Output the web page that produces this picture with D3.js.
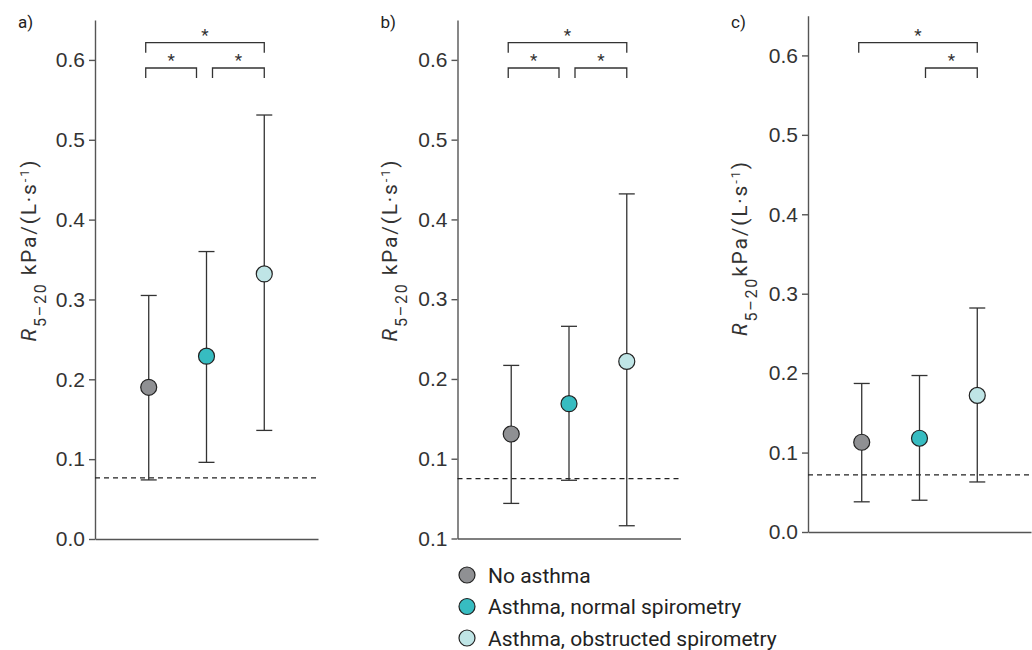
<!DOCTYPE html>
<meta charset="utf-8">
<script src="https://d3js.org/d3.v7.min.js"></script>
<style>
body { margin: 0; background: #fff; }
svg { font-family: Roboto, "Liberation Sans", sans-serif; }
.axis path, .axis line { stroke: #555; stroke-width: 1.4px; }
.axis text { font-size: 21px; fill: #333; }
</style>
<div id="chart"></div>
<script>

// groups and colours
var groups = ["No asthma", "Asthma, normal spirometry", "Asthma, obstructed spirometry"];
var groupColors = ["#8f9093", "#37bcc1", "#bfe5e6"];
var panelNames = ["a)", "b)", "c)"];

// panel a
var meanA = [0.190, 0.229, 0.332];
var lowA  = [0.074, 0.096, 0.136];
var highA = [0.305, 0.360, 0.531];
// panel b
var meanB = [0.131, 0.169, 0.222];
var lowB  = [0.044, 0.073, 0.016];
var highB = [0.217, 0.266, 0.432];
// panel c
var meanC = [0.113, 0.118, 0.172];
var lowC  = [0.038, 0.040, 0.063];
var highC = [0.187, 0.197, 0.282];

// dashed reference line per panel
var refLine = [0.0765, 0.075, 0.072];

// y ticks
var tickValues = [0, 0.1, 0.2, 0.3, 0.4, 0.5, 0.6];
var tickLabelsA = ["0.0", "0.1", "0.2", "0.3", "0.4", "0.5", "0.6"];
var tickLabelsB = ["0.1", "0.1", "0.2", "0.3", "0.4", "0.5", "0.6"];
var tickLabelsC = ["0.0", "0.1", "0.2", "0.3", "0.4", "0.5", "0.6"];

// significance brackets: [from group, to group, level]
var sigA = [[0, 2, 0], [0, 1, 1], [1, 2, 1]];
var sigB = [[0, 2, 0], [0, 1, 1], [1, 2, 1]];
var sigC = [[0, 2, 0], [1, 2, 1]];

var panels = [
  {name: panelNames[0], mean: meanA, low: lowA, high: highA, ref: refLine[0], labels: tickLabelsA, sig: sigA,
   left: 95, bottom: 539, top: 20, labelX: 35.5, labelY: 250, space: true},
  {name: panelNames[1], mean: meanB, low: lowB, high: highB, ref: refLine[1], labels: tickLabelsB, sig: sigB,
   left: 457.5, bottom: 538.5, top: 20, labelX: 396.5, labelY: 250, space: true},
  {name: panelNames[2], mean: meanC, low: lowC, high: highC, ref: refLine[2], labels: tickLabelsC, sig: sigC,
   left: 808, bottom: 532, top: 15.7, labelX: 746.5, labelY: 248, space: false}
];

var panelWidth = 223;
var bracketY = [42.7, 68];

var svg = d3.select("#chart")
  .append("svg")
    .attr("width", 1032)
    .attr("height", 650);

panels.forEach(function(p) {
  var g = svg.append("g");

  var y = d3.scaleLinear()
    .domain([0, 0.65])
    .range([p.bottom, p.top]);

  var x = d3.scalePoint()
    .domain(groups)
    .range([p.left, p.left + panelWidth])
    .padding(0.93);

  // y axis
  g.append("g")
    .attr("class", "axis")
    .attr("transform", "translate(" + p.left + ",0)")
    .call(d3.axisLeft(y)
      .tickValues(tickValues)
      .tickFormat(function(d, i) { return p.labels[i]; })
      .tickSize(6)
      .tickSizeOuter(0)
      .tickPadding(4));

  // x axis (plain line)
  g.append("g")
    .attr("class", "axis")
    .attr("transform", "translate(0," + p.bottom + ")")
    .call(d3.axisBottom(d3.scaleLinear().range([p.left, p.left + panelWidth]))
      .tickValues([])
      .tickSizeOuter(0));

  // dashed reference line
  g.append("line")
    .attr("x1", p.left)
    .attr("x2", p.left + panelWidth)
    .attr("y1", y(p.ref))
    .attr("y2", y(p.ref))
    .attr("stroke", "#222")
    .attr("stroke-width", 1.2)
    .attr("stroke-dasharray", "5,4");

  // error bars
  groups.forEach(function(gr, i) {
    var cx = x(gr);
    g.append("line")
      .attr("x1", cx).attr("x2", cx)
      .attr("y1", y(p.low[i])).attr("y2", y(p.high[i]))
      .attr("stroke", "#333").attr("stroke-width", 1.3);
    [p.low[i], p.high[i]].forEach(function(v) {
      g.append("line")
        .attr("x1", cx - 8).attr("x2", cx + 8)
        .attr("y1", y(v)).attr("y2", y(v))
        .attr("stroke", "#333").attr("stroke-width", 1.3);
    });
  });

  // points
  g.selectAll("circle.pt")
    .data(groups)
    .enter()
    .append("circle")
      .attr("class", "pt")
      .attr("cx", function(d) { return x(d); })
      .attr("cy", function(d, i) { return y(p.mean[i]); })
      .attr("r", 8)
      .attr("fill", function(d, i) { return groupColors[i]; })
      .attr("stroke", "#222")
      .attr("stroke-width", 1.2);

  // significance brackets
  p.sig.forEach(function(s) {
    var x1 = x(groups[s[0]]) + (s[0] === 1 ? 6 : -3);
    var x2 = x(groups[s[1]]) + (s[1] === 1 ? -10 : 0);
    var by = bracketY[s[2]];
    g.append("path")
      .attr("d", "M" + x1 + "," + (by + 10) + "V" + by + "H" + x2 + "V" + (by + 10))
      .attr("fill", "none")
      .attr("stroke", "#333")
      .attr("stroke-width", 1.3);
    g.append("text")
      .attr("x", (x1 + x2) / 2)
      .attr("y", by - 2)
      .attr("text-anchor", "middle")
      .style("font-size", "17px")
      .style("fill", "#333")
      .text("*");
  });

  // panel letter
  g.append("text")
    .attr("x", p.left - 77)
    .attr("y", 28)
    .style("font-size", "17px")
    .style("fill", "#222")
    .text(p.name);

  // y axis title
  var t = g.append("text")
    .attr("transform", "translate(" + p.labelX + "," + p.labelY + ") rotate(-90)")
    .attr("text-anchor", "middle")
    .style("font-size", "21px")
    .style("letter-spacing", "1.8px")
    .style("fill", "#333");
  t.append("tspan").style("font-style", "italic").text("R");
  t.append("tspan").attr("baseline-shift", "sub").style("font-size", "16px").text("5\u201320");
  t.append("tspan").text((p.space ? " " : "") + "kPa/(L\u00b7s");
  t.append("tspan").attr("baseline-shift", "super").style("font-size", "13px").text("-1");
  t.append("tspan").text(")");
});

// legend
var legend = svg.append("g");
groups.forEach(function(gr, i) {
  var ly = 575 + i * 31.5;
  legend.append("circle")
    .attr("cx", 467).attr("cy", ly).attr("r", 8)
    .attr("fill", groupColors[i])
    .attr("stroke", "#222").attr("stroke-width", 1.2);
  legend.append("text")
    .attr("x", 488).attr("y", ly + 7.5)
    .style("font-size", "21px")
    .style("fill", "#222")
    .text(gr);
});

</script>
